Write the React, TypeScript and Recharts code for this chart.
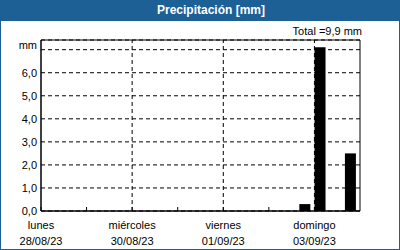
import React from "react";
import {
  BarChart,
  Bar,
  XAxis,
  YAxis,
  CartesianGrid,
  ReferenceLine,
  ReferenceArea,
} from "recharts";

// 8-hour bins, centre hour counted from lunes 28/08/23 00:00
const binHours = [
  3, 11, 19, 27, 35, 43, 51, 59, 67, 75, 83, 91, 99, 107, 115, 123, 131, 139,
  147, 155, 163,
];
const precip = [
  0, 0, 0, 0, 0, 0, 0, 0, 0, 0, 0, 0, 0, 0, 0, 0, 0, 0.3, 7.1, 0, 2.5,
];

const dayTicks = [0, 24, 48, 72, 96, 120, 144, 168];
const dayNames: Record<number, string> = {
  0: "lunes",
  48: "miércoles",
  96: "viernes",
  144: "domingo",
};
const dayDates: Record<number, string> = {
  0: "28/08/23",
  48: "30/08/23",
  96: "01/09/23",
  144: "03/09/23",
};
const gridDays = [48, 96, 144];
const yTicks = [0, 1, 2, 3, 4, 5, 6, 7];
const yMax = 7.42;
const total = "Total =9,9 mm";

const data = binHours.map((h, i) => ({ h, mm: precip[i] }));

const FONT = "'Liberation Sans', Arial, sans-serif";
const BLUE = "#1d6096";

function XTick(props: any) {
  const { x, y, payload } = props;
  const v = payload.value;
  return (
    <g>
      {v !== 168 && <line x1={x} x2={x} y1={y} y2={y - 4} stroke="#000" />}
      {dayNames[v] && (
        <>
          <text x={x} y={y + 18} textAnchor="middle" fontSize={11} fill="#000" fontFamily={FONT}>
            {dayNames[v]}
          </text>
          <text x={x} y={y + 34} textAnchor="middle" fontSize={11} fill="#000" fontFamily={FONT}>
            {dayDates[v]}
          </text>
        </>
      )}
    </g>
  );
}

function YTick(props: any) {
  const { x, y, payload } = props;
  const v = payload.value;
  const label = v === 7 ? "mm" : v.toFixed(1).replace(".", ",");
  return (
    <text
      x={x - 4}
      y={(v === 7 ? y - 5 : y) + 4}
      textAnchor="end"
      fontSize={11}
      fill="#000"
      fontFamily={FONT}
    >
      {label}
    </text>
  );
}

export default function App() {
  return (
    <div
      style={{
        position: "absolute",
        left: 0,
        top: 0,
        width: 400,
        height: 250,
        background: "#fff",
        boxSizing: "border-box",
        border: `1px solid ${BLUE}`,
        borderTop: "none",
        fontFamily: FONT,
      }}
    >
      <div
        style={{
          position: "absolute",
          left: -1,
          top: 0,
          width: 400,
          height: 21,
          boxSizing: "border-box",
          paddingLeft: 22,
          background: BLUE,
          color: "#fff",
          fontWeight: "bold",
          fontSize: 12,
          lineHeight: "21px",
          textAlign: "center",
        }}
      >
        Precipitación [mm]
      </div>
      <div
        style={{
          position: "absolute",
          right: 37,
          top: 25,
          fontSize: 11,
          color: "#000",
        }}
      >
        {total}
      </div>
      <div style={{ position: "absolute", left: -1, top: 0 }}>
        <BarChart
          width={400}
          height={250}
          data={data}
          margin={{ top: 40, right: 40, left: 0, bottom: 0 }}
        >
          <CartesianGrid
            vertical={false}
            stroke="#000"
            strokeDasharray="4 3"
          />
          {gridDays.map((d) => (
            <ReferenceLine key={d} x={d} stroke="#000" strokeDasharray="4 3" />
          ))}
          <XAxis
            dataKey="h"
            type="number"
            domain={[0, 168]}
            ticks={dayTicks}
            interval={0}
            height={39}
            tickLine={false}
            tickSize={0}
            tickMargin={0}
            axisLine={{ stroke: "#000" }}
            tick={<XTick />}
          />
          <YAxis
            type="number"
            domain={[0, yMax]}
            ticks={yTicks}
            interval={0}
            width={41}
            tickLine={false}
            tickSize={0}
            tickMargin={0}
            axisLine={{ stroke: "#000" }}
            tick={<YTick />}
          />
          <ReferenceArea
            x1={0}
            x2={168}
            y1={0}
            y2={yMax}
            fill="none"
            stroke="#000"
            fillOpacity={0}
          />
          <Bar dataKey="mm" fill="#000" barSize={11} isAnimationActive={false} />
        </BarChart>
      </div>
    </div>
  );
}
